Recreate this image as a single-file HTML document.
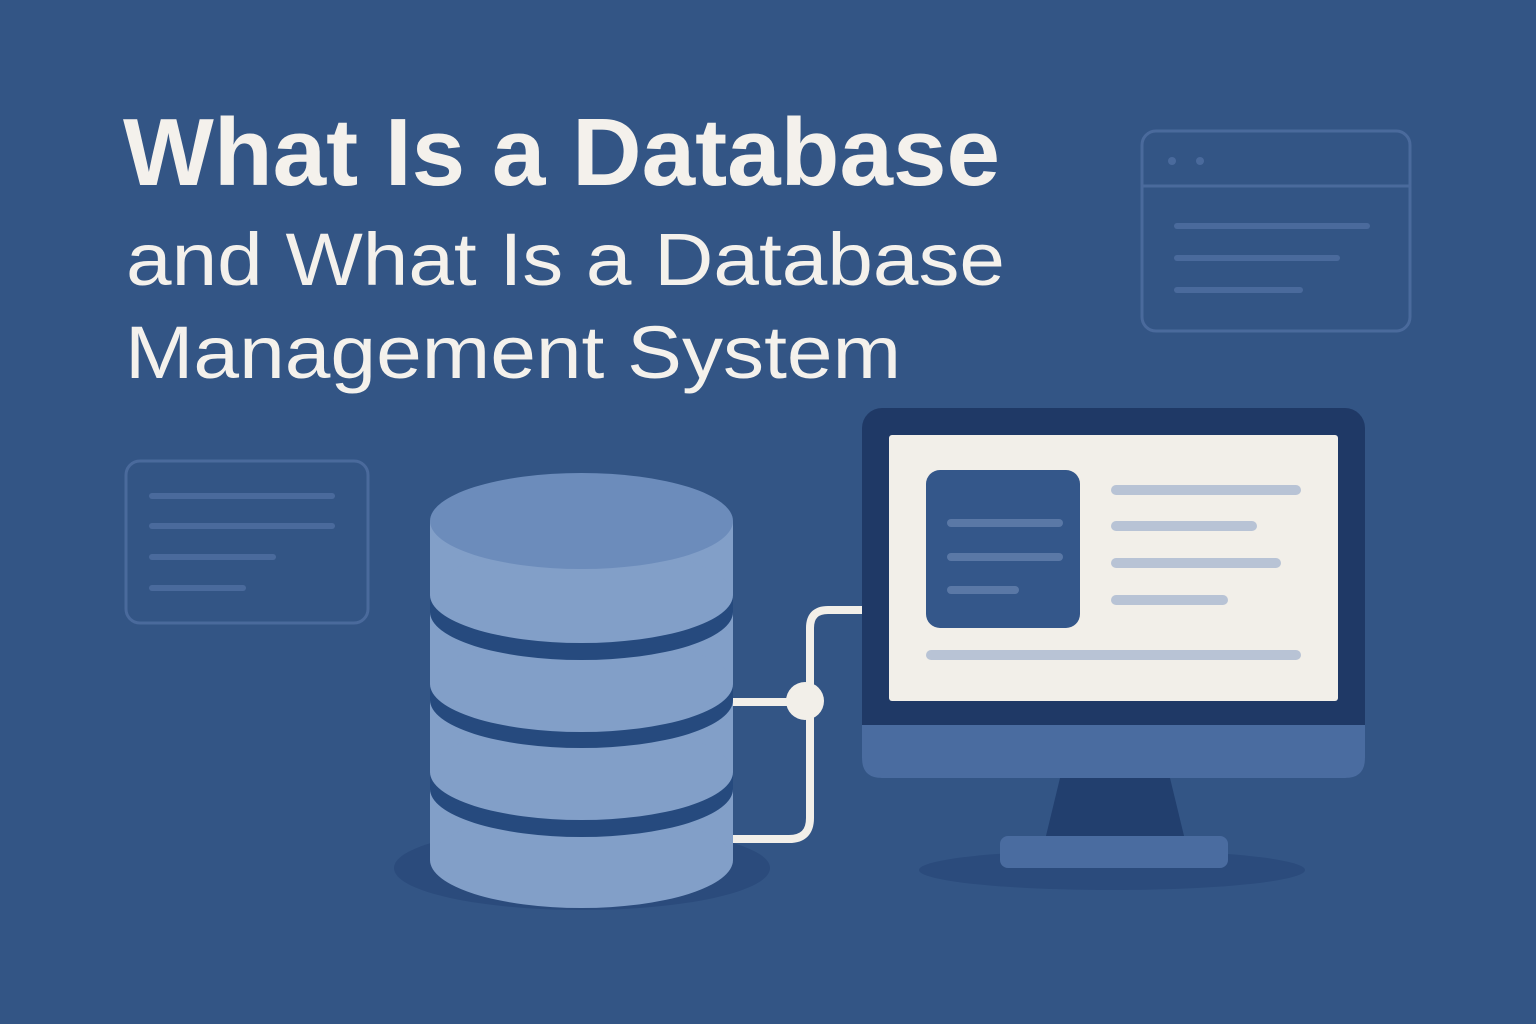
<!DOCTYPE html>
<html><head><meta charset="utf-8"><style>
html,body{margin:0;padding:0;background:#335585;}
svg{display:block}
</style></head><body>
<svg width="1536" height="1024" viewBox="0 0 1536 1024" xmlns="http://www.w3.org/2000/svg">
<rect width="1536" height="1024" fill="#335585"/>
<!-- faded window top right -->
<g fill="none" stroke="#4a6a9c" stroke-width="3" stroke-linecap="round">
<rect x="1142" y="131" width="268" height="200" rx="14"/>
<line x1="1142" y1="186" x2="1410" y2="186"/>
<line x1="1177" y1="226" x2="1367" y2="226" stroke-width="6"/>
<line x1="1177" y1="258" x2="1337" y2="258" stroke-width="6"/>
<line x1="1177" y1="290" x2="1300" y2="290" stroke-width="6"/>
<rect x="126" y="461" width="242" height="162" rx="14"/>
<line x1="152" y1="496" x2="332" y2="496" stroke-width="6"/>
<line x1="152" y1="526" x2="332" y2="526" stroke-width="6"/>
<line x1="152" y1="557" x2="273" y2="557" stroke-width="6"/>
<line x1="152" y1="588" x2="243" y2="588" stroke-width="6"/>
</g>
<circle cx="1172" cy="161" r="4" fill="#4a6a9c"/>
<circle cx="1200" cy="161" r="4" fill="#4a6a9c"/>
<!-- title -->
<g fill="#f4f1ec" font-family="Liberation Sans, Arial, sans-serif">
<text x="123" y="185" font-size="96" font-weight="bold" textLength="877" lengthAdjust="spacingAndGlyphs">What Is a Database</text>
<text x="126" y="285" font-size="74" textLength="879" lengthAdjust="spacingAndGlyphs">and What Is a Database</text>
<text x="125" y="378" font-size="74" textLength="776" lengthAdjust="spacingAndGlyphs">Management System</text>
</g>
<!-- shadows -->
<ellipse cx="582" cy="868" rx="188" ry="42" fill="#2b4b7c"/>
<ellipse cx="1112" cy="870" rx="193" ry="20" fill="#2b4b7c"/>
<!-- cylinder -->
<g>
<rect x="430" y="789" width="303" height="71" fill="#829fc8"/>
<ellipse cx="581.5" cy="860" rx="151.5" ry="48" fill="#829fc8"/>
<rect x="430" y="772" width="303" height="17" fill="#264a7e"/>
<ellipse cx="581.5" cy="789" rx="151.5" ry="48" fill="#264a7e"/>
<rect x="430" y="700" width="303" height="72" fill="#829fc8"/>
<ellipse cx="581.5" cy="772" rx="151.5" ry="48" fill="#829fc8"/>
<rect x="430" y="684" width="303" height="16" fill="#264a7e"/>
<ellipse cx="581.5" cy="700" rx="151.5" ry="48" fill="#264a7e"/>
<rect x="430" y="612" width="303" height="72" fill="#829fc8"/>
<ellipse cx="581.5" cy="684" rx="151.5" ry="48" fill="#829fc8"/>
<rect x="430" y="595" width="303" height="17" fill="#264a7e"/>
<ellipse cx="581.5" cy="612" rx="151.5" ry="48" fill="#264a7e"/>
<rect x="430" y="521" width="303" height="74" fill="#829fc8"/>
<ellipse cx="581.5" cy="595" rx="151.5" ry="48" fill="#829fc8"/>
<ellipse cx="581.5" cy="521" rx="151.5" ry="48" fill="#6c8cbb"/>
</g>
<!-- connectors -->
<g fill="none" stroke="#f2efe9" stroke-width="8">
<path d="M862 610 H828 Q810 610 810 628 V818 Q810 839 789 839 H733"/>
<line x1="733" y1="702" x2="805" y2="702"/>
</g>
<circle cx="805" cy="701" r="19" fill="#f2efe9"/>
<!-- monitor -->
<path d="M1060 778 H1170 L1185 840 H1045 Z" fill="#223f6e"/>
<rect x="1000" y="836" width="228" height="32" rx="8" fill="#4a6ca0"/>
<rect x="862" y="408" width="503" height="370" rx="20" fill="#1f3966"/>
<path d="M862 725 H1365 V758 Q1365 778 1345 778 H882 Q862 778 862 758 Z" fill="#4a6ca0"/>
<rect x="889" y="435" width="449" height="266" rx="3" fill="#f2efe9"/>
<rect x="926" y="470" width="154" height="158" rx="14" fill="#34578a"/>
<g stroke-linecap="round" stroke-width="8" stroke="#5a78a6">
<line x1="951" y1="523" x2="1059" y2="523"/>
<line x1="951" y1="557" x2="1059" y2="557"/>
<line x1="951" y1="590" x2="1015" y2="590"/>
</g>
<g stroke-linecap="round" stroke-width="10" stroke="#b8c3d5">
<line x1="1116" y1="490" x2="1296" y2="490"/>
<line x1="1116" y1="526" x2="1252" y2="526"/>
<line x1="1116" y1="563" x2="1276" y2="563"/>
<line x1="1116" y1="600" x2="1223" y2="600"/>
<line x1="931" y1="655" x2="1296" y2="655"/>
</g>
</svg>
</body></html>
